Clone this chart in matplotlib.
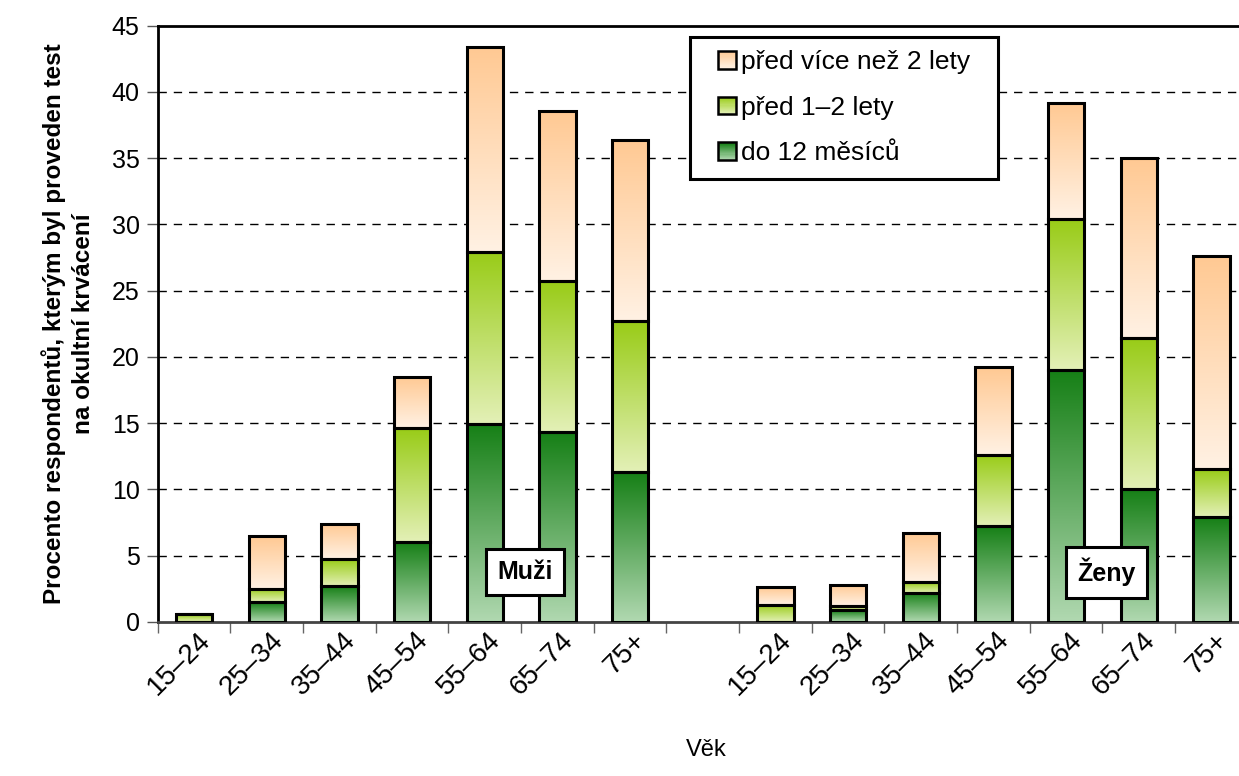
import numpy as np
import matplotlib
matplotlib.use("Agg")
import matplotlib.pyplot as plt
from matplotlib.colors import to_rgb
from matplotlib.patches import Patch, Rectangle
from matplotlib.legend_handler import HandlerBase
from matplotlib.transforms import ScaledTranslation

plt.rcParams['font.family'] = ['Liberation Sans', 'DejaVu Sans']

# data
age_groups = ["15–24", "25–34", "35–44", "45–54", "55–64", "65–74", "75+"]
men_12m = [0.0, 1.5, 2.7, 6.0, 14.9, 14.3, 11.3]
men_1_2 = [0.6, 1.0, 2.0, 8.6, 13.0, 11.4, 11.4]
men_2plus = [0.0, 4.0, 2.7, 3.9, 15.5, 12.9, 13.7]
women_12m = [0.0, 0.9, 2.2, 7.2, 19.0, 10.0, 7.9]
women_1_2 = [1.3, 0.3, 0.8, 5.4, 11.4, 11.4, 3.6]
women_2plus = [1.3, 1.6, 3.7, 6.6, 8.8, 13.6, 16.1]

series_labels = ["do 12 měsíců", "před 1–2 lety", "před více než 2 lety"]
# (top colour, bottom colour) of each gradient
grads = [("#178017", "#b0d8b0"), ("#99cc18", "#e3f0b6"), ("#ffc993", "#fff1e3")]


def grad_img(top, bottom, n=64):
    t = np.linspace(0, 1, n)[:, None]
    a = np.array(to_rgb(top))
    b = np.array(to_rgb(bottom))
    return (a * (1 - t) + b * t)[:, None, :]


class GradHandler(HandlerBase):
    # small gradient square, pushed to the right end of the handle area
    def __init__(self, top, bottom):
        super().__init__()
        self.top, self.bottom = top, bottom

    def create_artists(self, legend, orig_handle, xdescent, ydescent, width, height, fontsize, trans):
        n = 16
        a = np.array(to_rgb(self.top))
        b = np.array(to_rgb(self.bottom))
        side = height
        x0 = -xdescent + width - side
        arts = []
        for k in range(n):
            t = k / (n - 1)
            col = b * (1 - t) + a * t
            arts.append(Rectangle((x0, -ydescent + k * side / n), side, side / n * 1.05,
                                  facecolor=col, edgecolor='none', transform=trans))
        arts.append(Rectangle((x0, -ydescent), side, side, fill=False,
                              edgecolor='black', lw=1.8, transform=trans))
        return arts


fig = plt.figure(figsize=(12.39, 7.76), dpi=100)
ax = fig.add_axes([0.1273, 0.1988, 0.8798, 0.768])

n = len(age_groups)
x_men = np.arange(n)
x_women = np.arange(n) + n + 1
x_all = np.concatenate([x_men, x_women])
stacks = [np.array(men_12m + women_12m), np.array(men_1_2 + women_1_2), np.array(men_2plus + women_2plus)]

w = 0.5
bottom = np.zeros(len(x_all))
for vals, (top_c, bot_c) in zip(stacks, grads):
    img = grad_img(top_c, bot_c)
    for xi, b0, v in zip(x_all, bottom, vals):
        if v <= 0:
            continue
        ax.imshow(img, extent=[xi - w / 2, xi + w / 2, b0, b0 + v], aspect='auto',
                  origin='upper', zorder=2, interpolation='bilinear')
    ax.bar(x_all, vals, bottom=bottom, width=w, facecolor='none', edgecolor='black',
           linewidth=2.2, zorder=3)
    bottom = bottom + vals

ax.set_xlim(-0.5, 2 * n + 0.5)
ax.set_ylim(0, 45)
ax.set_yticks(np.arange(0, 46, 5))
ax.tick_params(axis='y', labelsize=18, length=8, width=1, direction='out', color='#555555', pad=5)
for y in range(5, 45, 5):
    ax.axhline(y, color='black', lw=1, ls=(0, (6, 5)), zorder=1)

ax.set_xticks(np.arange(-0.5, 2 * n + 1, 1), minor=True)
ax.set_xticks(x_all)
ax.set_xticklabels(age_groups + age_groups, rotation=45, ha='right', va='top',
                   rotation_mode='anchor', fontsize=20)
ax.tick_params(axis='x', which='major', length=0, pad=4)
ax.tick_params(axis='x', which='minor', length=8, width=1, color='#666666')
shift = ScaledTranslation(0.03, 0, fig.dpi_scale_trans)
for lab in ax.get_xticklabels():
    lab.set_transform(lab.get_transform() + shift)

for s in ['left', 'top']:
    ax.spines[s].set_linewidth(2)
ax.spines['bottom'].set_linewidth(2)
ax.spines['bottom'].set_color('#444444')
ax.spines['right'].set_visible(False)

ax.set_xlabel("Věk", fontsize=17)
ax.xaxis.set_label_coords(0.503, -0.197)
ax.set_ylabel("Procento respondentů, kterým byl proveden test\nna okultní krvácení",
              fontsize=17.5, fontweight='bold', linespacing=1.3)
ax.yaxis.set_label_coords(-0.058, 0.5)

box = dict(boxstyle='square,pad=0.45', facecolor='white', edgecolor='black', lw=2.2)
ax.text(4.55, 3.75, "Muži", fontsize=18, fontweight='bold', ha='center', va='center', bbox=box, zorder=5)
ax.text(12.56, 3.75, "Ženy", fontsize=18, fontweight='bold', ha='center', va='center', bbox=box, zorder=5)

handles = [Patch(), Patch(), Patch()]
hmap = {h: GradHandler(*g) for h, g in zip(handles, grads)}
leg_labels = [series_labels[2] + "  ", series_labels[1], series_labels[0]]
leg = ax.legend(handles[::-1], leg_labels, handler_map=hmap,
                loc='upper left', bbox_to_anchor=(690 / 1239, 1 - 37 / 776),
                bbox_transform=fig.transFigure, fontsize=19, frameon=True, fancybox=False,
                framealpha=1, edgecolor='black', handlelength=1.24, handleheight=0.66,
                handletextpad=0.2, labelspacing=0.82, borderpad=0.5, borderaxespad=0)
leg.get_frame().set_linewidth(2.2)
leg.set_zorder(6)

fig.savefig("out.png", dpi=100)
